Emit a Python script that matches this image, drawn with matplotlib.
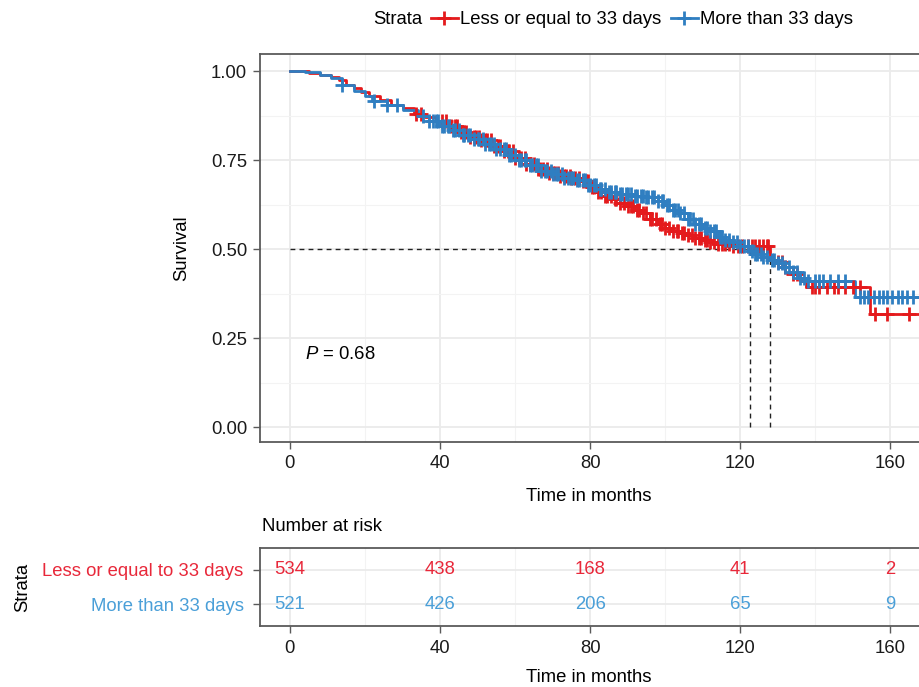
import numpy as np
import matplotlib
matplotlib.use("Agg")
import matplotlib.pyplot as plt
from matplotlib.lines import Line2D

plt.rcParams['font.family'] = ['Liberation Sans', 'DejaVu Sans']
plt.rcParams['mathtext.fontset'] = 'custom'
plt.rcParams['mathtext.it'] = 'Liberation Sans:italic'
plt.rcParams['mathtext.rm'] = 'Liberation Sans'

# ---------------- data ----------------
groups = ["Less or equal to 33 days", "More than 33 days"]
colors = ["#E41A1C", "#2F7EC1"]
table_colors = ["#E8283A", "#4A9FD8"]

red_t = [0, 5, 8, 11, 13, 15, 17, 19, 21, 24, 27, 30, 33, 36, 39, 42, 45, 48, 51, 54,
         57, 60, 63, 66, 69, 72, 75, 78, 80, 82, 84, 86, 88, 90, 92, 94, 96, 98, 100,
         102, 104, 106, 108, 110, 112, 114, 118, 128, 130, 132, 134, 136, 137.5, 154.5]
red_s = [1.0, 0.995, 0.99, 0.982, 0.975, 0.962, 0.953, 0.94, 0.93, 0.92, 0.905, 0.895,
         0.88, 0.87, 0.86, 0.845, 0.83, 0.815, 0.805, 0.79, 0.775, 0.755, 0.74, 0.725,
         0.715, 0.705, 0.70, 0.69, 0.675, 0.66, 0.65, 0.64, 0.63, 0.62, 0.61, 0.60,
         0.585, 0.57, 0.56, 0.55, 0.545, 0.54, 0.53, 0.525, 0.52, 0.515, 0.508, 0.47,
         0.465, 0.45, 0.43, 0.41, 0.393, 0.317]

blue_t = [0, 4, 8, 11, 14, 17, 20, 22, 26, 30, 34, 37, 40, 43, 46, 49, 52, 55, 58, 61,
          64, 67, 70, 73, 76, 79, 82, 85, 88, 92, 95, 98, 100, 102, 104, 106, 108, 110,
          112, 114, 116, 118, 120, 122.5, 124, 126, 128, 130, 132, 134, 136, 138, 150.5]
blue_s = [1.0, 0.997, 0.99, 0.98, 0.96, 0.945, 0.93, 0.915, 0.905, 0.89, 0.875, 0.86,
          0.845, 0.835, 0.82, 0.81, 0.795, 0.78, 0.765, 0.75, 0.735, 0.72, 0.71, 0.70,
          0.695, 0.68, 0.67, 0.66, 0.655, 0.65, 0.645, 0.635, 0.625, 0.61, 0.60, 0.585,
          0.57, 0.56, 0.55, 0.535, 0.525, 0.52, 0.51, 0.495, 0.485, 0.478, 0.47, 0.46,
          0.45, 0.435, 0.42, 0.41, 0.365]

red_cens = [33.5, 35, 40.5, 41.5, 43, 44, 44.5, 45.5, 46.5, 47, 48, 49, 49.5, 50.5, 51,
            52, 52.5, 53.5, 54.5, 55.5, 56, 57, 58, 58.5, 59.5, 60, 61, 61.5, 62.5, 63,
            64, 65, 66, 66.5, 67.5, 68.5, 69, 70, 70.5, 71.5, 72, 73, 73.5, 74.5, 75,
            76, 77, 78, 79, 79.5, 80.5, 81, 82, 83, 84, 84.5, 85.5, 86.5, 87, 88, 89,
            90, 91, 91.5, 92.5, 93, 94, 95, 96, 96.5, 97.5, 98.5, 99, 100, 101, 102,
            103, 103.5, 104.5, 105, 106, 107, 108, 109, 109.5, 110.5, 111, 112, 113,
            114, 115, 116, 117, 118, 119.5, 120.5, 122, 123, 124, 125, 126, 127, 127.5,
            130, 131, 132, 134, 135, 139, 140, 141, 143, 145, 146, 148, 150, 152, 156,
            159, 165]
blue_cens = [14, 22.5, 26, 28.5, 35.5, 37, 38, 39, 39.5, 40.5, 41, 42, 42.5, 43.5, 44,
             45, 46, 46.5, 47.5, 48, 49, 50, 50.5, 51.5, 52, 53, 53.5, 54.5, 55, 56, 57,
             57.5, 58.5, 59, 60, 61, 61.5, 62.5, 63, 64, 64.5, 65.5, 66, 67, 68, 68.5,
             69.5, 70, 71, 71.5, 72.5, 73, 74, 75, 75.5, 76.5, 77, 78, 78.5, 79.5, 80,
             81, 81.5, 82.5, 83, 84, 85, 85.5, 86.5, 87, 88, 88.5, 89.5, 90, 91, 92,
             92.5, 93.5, 94, 95, 95.5, 96.5, 97, 98, 99, 99.5, 100.5, 101, 102, 102.5,
             103.5, 104, 105, 106, 106.5, 107.5, 108, 109, 109.5, 110.5, 111, 112, 113,
             113.5, 114.5, 115, 116, 117, 118, 119, 120, 121, 122, 123, 124, 124.5,
             125.5, 126, 127, 128.5, 129, 130, 131, 132, 133, 134, 135, 136, 137, 138,
             140, 141, 142, 144, 146, 148, 152, 153, 154, 155.5, 157, 158, 159, 160.5,
             162, 163, 164.5, 166]

medians = [128, 122.5]
p_text = "= 0.68"

risk_times = [0, 40, 80, 120, 160]
risk_red = [534, 438, 168, 41, 2]
risk_blue = [521, 426, 206, 65, 9]

xticks = [0, 40, 80, 120, 160]
yticks = [0.00, 0.25, 0.50, 0.75, 1.00]
xlim = (-8.1, 167.6)

# ---------------- figure ----------------
W, H = 919, 687
fig = plt.figure(figsize=(W / 100, H / 100), dpi=100)

def fx(px):
    return px / W

def fy(py):
    return 1 - py / H

grid_c = "#EBEBEB"
spine_c = "#5A5A5A"
fs = 13.3

ax = fig.add_axes([fx(259.5), fy(442), fx(919) - fx(259.5), fy(54) - fy(442)])
ax.set_xlim(*xlim)
ax.set_ylim(-0.042, 1.048)

for v in [20, 60, 100, 140]:
    ax.axvline(v, color="#F3F3F3", lw=0.8, zorder=0)
for v in xticks:
    ax.axvline(v, color=grid_c, lw=1.3, zorder=0)
for v in [0.125, 0.375, 0.625, 0.875]:
    ax.axhline(v, color="#F3F3F3", lw=0.8, zorder=0)
for v in yticks:
    ax.axhline(v, color=grid_c, lw=1.3, zorder=0)

def step_val(ts, ss, t):
    idx = np.searchsorted(np.asarray(ts), t, side="right") - 1
    return np.asarray(ss)[idx]

curves = [(red_t, red_s, red_cens), (blue_t, blue_s, blue_cens)]
for (ts, ss, cs), col in zip(curves, colors):
    tt = list(ts) + [xlim[1]]
    sv = list(ss) + [ss[-1]]
    ax.step(tt, sv, where="post", color=col, lw=2.0, zorder=3)
    cy = [step_val(ts, ss, c) for c in cs]
    ax.plot(cs, cy, ls="none", marker="+", ms=10.5, mew=2.0, color=col, zorder=4)

# median lines
ax.plot([0, max(medians)], [0.5, 0.5], ls=(0, (3.5, 3)), color="#222222", lw=1.0, zorder=2)
for m in medians:
    ax.plot([m, m], [0, 0.5], ls=(0, (3.5, 3)), color="#222222", lw=1.0, zorder=2)

ax.text(4, 0.205, r"$P$ " + p_text, fontsize=fs, ha="left", va="center")

ax.set_xticks(xticks)
ax.set_yticks(yticks)
ax.set_yticklabels([f"{v:.2f}" for v in yticks])
ax.tick_params(labelsize=fs, length=5, width=1, color=spine_c, pad=4, labelcolor="#1a1a1a")
for s in ["left", "top", "bottom"]:
    ax.spines[s].set_color(spine_c)
    ax.spines[s].set_linewidth(1.3)
ax.spines["right"].set_visible(False)
ax.set_xlabel("Time in months", fontsize=fs, labelpad=12)
ax.set_ylabel("Survival", fontsize=fs, labelpad=15)

# legend
handles = [Line2D([0], [0], color=c, lw=2.0, marker="+", ms=10, mew=2.0) for c in colors]
fig.text(fx(373), fy(20), "Strata", fontsize=fs, ha="left", va="center")
fig.legend(handles, groups, loc="center left", bbox_to_anchor=(fx(431), fy(20)),
           ncol=2, frameon=False, fontsize=fs, handlelength=1.45, handletextpad=0.1,
           columnspacing=0.55, borderpad=0, borderaxespad=0)

# ---------------- risk table ----------------
ax2 = fig.add_axes([fx(259.5), fy(626), fx(919) - fx(259.5), fy(548) - fy(626)])
ax2.set_xlim(*xlim)
ax2.set_ylim(0.37, 2.63)
for v in [20, 60, 100, 140]:
    ax2.axvline(v, color="#F3F3F3", lw=0.8, zorder=0)
for v in xticks:
    ax2.axvline(v, color=grid_c, lw=1.3, zorder=0)
for v in [1, 2]:
    ax2.axhline(v, color=grid_c, lw=1.3, zorder=0)

for t, r, b in zip(risk_times, risk_red, risk_blue):
    ax2.text(t, 2, str(r), color=table_colors[0], fontsize=fs, ha="center", va="center")
    ax2.text(t, 1, str(b), color=table_colors[1], fontsize=fs, ha="center", va="center")

ax2.set_xticks(xticks)
ax2.set_yticks([2, 1])
ax2.set_yticklabels(groups)
for lab, c in zip(ax2.get_yticklabels(), table_colors):
    lab.set_color(c)
ax2.tick_params(labelsize=fs, length=5, width=1, color=spine_c, pad=4)
ax2.tick_params(axis="y", pad=6.5)
ax2.tick_params(axis="x", labelcolor="#1a1a1a", pad=5)
for s in ["left", "top", "bottom"]:
    ax2.spines[s].set_color(spine_c)
    ax2.spines[s].set_linewidth(1.3)
ax2.spines["right"].set_visible(False)
ax2.set_xlabel("Time in months", fontsize=fs, labelpad=9)
ax2.set_ylabel("Strata", fontsize=fs, labelpad=8)
ax2.set_title("Number at risk", fontsize=fs, loc="left", pad=12, x=0.004)

fig.savefig("out.png", dpi=100)
